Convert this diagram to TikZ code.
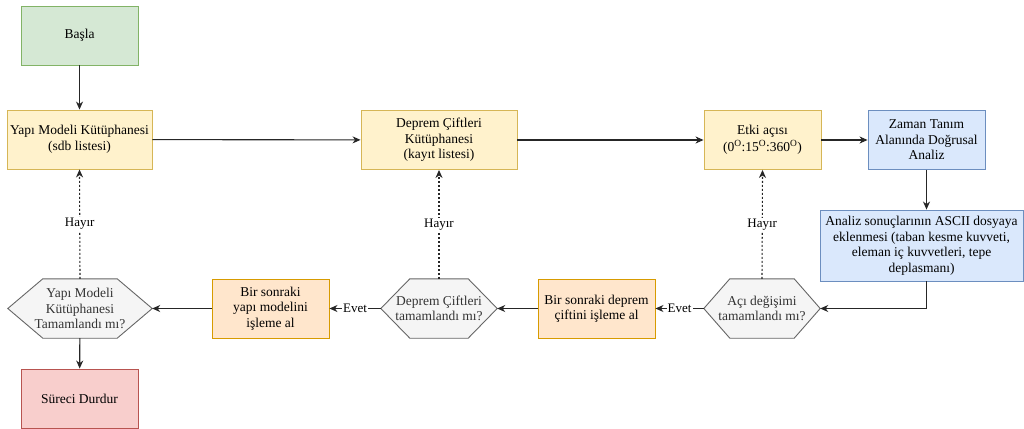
\documentclass[tikz,border=0pt]{standalone}
\usepackage{fontspec}
\setmainfont{Liberation Serif}
\usetikzlibrary{arrows.meta,backgrounds}
\definecolor{gfill}{HTML}{D5E8D4}\definecolor{gdraw}{HTML}{82B366}
\definecolor{yfill}{HTML}{FFF2CC}\definecolor{ydraw}{HTML}{D6B656}
\definecolor{bfill}{HTML}{DAE8FC}\definecolor{bdraw}{HTML}{6C8EBF}
\definecolor{ofill}{HTML}{FFE6CC}\definecolor{odraw}{HTML}{D79B00}
\definecolor{rfill}{HTML}{F8CECC}\definecolor{rdraw}{HTML}{B85450}
\definecolor{hfill}{HTML}{F5F5F5}\definecolor{hdraw}{HTML}{666666}
\definecolor{htext}{HTML}{333333}
\newcommand{\hexoutline}[2]{%
  \draw[hexline] (#1.west) -- ([xshift=#2]#1.north west) -- ([xshift=-#2]#1.north east)
    -- (#1.east) -- ([xshift=-#2]#1.south east) -- ([xshift=#2]#1.south west) -- cycle;}
\newcommand{\dg}{\textsuperscript{O}}
\begin{document}
\begin{tikzpicture}[x=1pt,y=-1pt,
  every node/.style={font=\fontsize{13.5}{15.5}\selectfont, align=center, inner sep=0pt},
  box/.style={rectangle, draw, line width=0.9pt, minimum width=117pt, minimum height=59pt},
  greenbox/.style={box, fill=gfill, draw=gdraw},
  yellowbox/.style={box, fill=yfill, draw=ydraw},
  bluebox/.style={box, fill=bfill, draw=bdraw},
  orangebox/.style={box, fill=ofill, draw=odraw},
  redbox/.style={box, fill=rfill, draw=rdraw},
  hexnode/.style={rectangle, minimum width=116pt, minimum height=59pt, text=htext},
  hexline/.style={fill=hfill, draw=hdraw, line width=0.9pt, line join=miter},
  conn/.style={draw=black!85, line width=1.1pt, -{Stealth[length=8pt,width=7pt,inset=2.5pt]}},
  dotconn/.style={conn, dash pattern=on 2pt off 2pt},
  lbl/.style={fill=white, inner sep=1pt, font=\fontsize{13}{15}\selectfont}
]
\useasboundingbox (0,0) rectangle (1024,428);

\node[greenbox] (start) at (79.5,35.5) {Başla};
\node[yellowbox, minimum width=145pt] (yapi) at (79.5,139.5) {Yapı Modeli Kütüphanesi\\(sdb listesi)};
\node[yellowbox, minimum width=156pt] (deprem) at (439,140) {Deprem Çiftleri\\Kütüphanesi\\(kayıt listesi)};
\node[yellowbox] (etki) at (762.5,140) {Etki açısı\\[2pt](0\dg:15\dg:360\dg)};
\node[bluebox] (zaman) at (926.5,140) {Zaman Tanım\\Alanında Doğrusal\\Analiz};
\node[bluebox, minimum width=203pt, minimum height=71pt] (analiz) at (921.5,245.5)
  {Analiz sonuçlarının ASCII dosyaya\\eklenmesi (taban kesme kuvveti,\\eleman iç kuvvetleri, tepe\\deplasmanı)};

\node[hexnode] (acihex) at (762,308.5) {Açı değişimi\\tamamlandı mı?};
\node[orangebox] (nextdep) at (596.5,308.5) {Bir sonraki deprem\\çiftini işleme al};
\node[hexnode] (dephex) at (439,308.5) {Deprem Çiftleri\\tamamlandı mı?};
\node[orangebox] (nextyapi) at (270.5,308.5) {Bir sonraki\\yapı modelini\\işleme al};
\node[hexnode, minimum width=144pt] (yapihex) at (80,308.5) {Yapı Modeli\\Kütüphanesi\\Tamamlandı mı?};
\node[redbox] (stop) at (79.5,398.5) {Süreci Durdur};

\begin{scope}[on background layer]
  \hexoutline{acihex}{26pt}
  \hexoutline{dephex}{29pt}
  \hexoutline{yapihex}{35pt}
\end{scope}

\draw[conn] (start) -- (yapi);
\draw[conn] (yapi) -- (deprem);
\draw[conn] (deprem) -- (etki);
\draw[conn] (etki) -- (zaman);
\draw[conn] (zaman.south) -- (zaman.south |- analiz.north);
\draw[conn] (analiz.south -| zaman.south) |- (acihex.east);
\draw[conn] (acihex.west) -- node[lbl] {Evet} (nextdep.east);
\draw[conn] (nextdep) -- (dephex.east);
\draw[conn] (dephex.west) -- node[lbl] {Evet} (nextyapi.east);
\draw[conn] (nextyapi) -- (yapihex.east);
\draw[conn] (yapihex) -- (stop);
\draw[dotconn] (acihex.north) -- node[lbl] {Hayır} (etki.south);
\draw[dotconn] (dephex.north) -- node[lbl] {Hayır} (deprem.south);
\draw[dotconn] (yapihex.north) -- node[lbl] {Hayır} (yapi.south);
\end{tikzpicture}
\end{document}
